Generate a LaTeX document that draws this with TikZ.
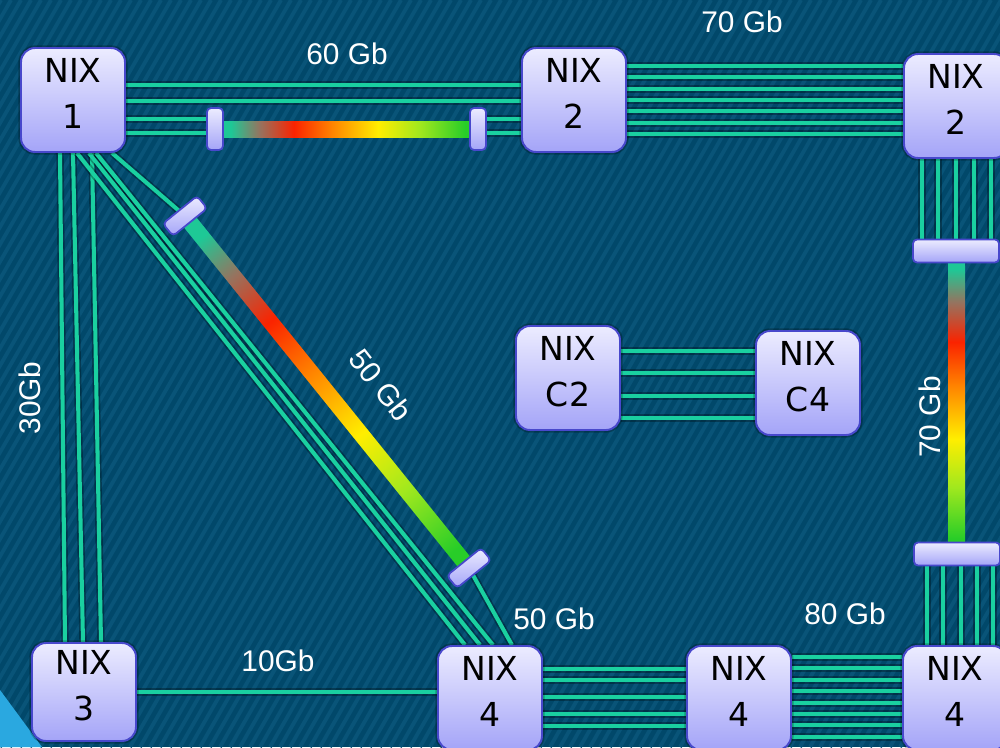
\documentclass[tikz,border=0pt]{standalone}
\usepackage{fontspec}
\usetikzlibrary{calc, backgrounds}
\newfontfamily\nixfont{DejaVu Sans}
\newfontfamily\gbfont{Liberation Sans}
\definecolor{bgblue}{RGB}{1,72,106}
\definecolor{bgstripe}{RGB}{9,84,120}
\definecolor{skyblue}{RGB}{42,168,224}
\definecolor{linkteal}{RGB}{26,208,160}
\definecolor{boxtop}{RGB}{236,236,255}
\definecolor{boxbottom}{RGB}{164,164,248}
\definecolor{boxedge}{RGB}{72,72,204}
\definecolor{barteal}{RGB}{30,200,150}
\definecolor{barmud}{RGB}{150,115,95}
\definecolor{barred}{RGB}{250,35,0}
\definecolor{barorange}{RGB}{255,135,0}
\definecolor{baryellow}{RGB}{255,238,0}
\definecolor{barlime}{RGB}{160,232,30}
\definecolor{bargreen}{RGB}{40,205,40}
\pgfdeclarehorizontalshading{nixbar}{100bp}{color(0bp)=(barteal); color(28bp)=(barteal);
    color(33.5bp)=(barmud); color(40bp)=(barred); color(47.5bp)=(barorange);
    color(56bp)=(baryellow); color(64bp)=(barlime); color(72.5bp)=(bargreen); color(100bp)=(bargreen)}

\begin{document}
\begin{tikzpicture}[x=0.02cm, y=-0.02cm,
    nixbox/.style={rectangle, rounded corners=0.28cm, draw=boxedge, line width=1.1pt,
        top color=boxtop, bottom color=boxbottom, minimum width=2.08cm, minimum height=2.08cm,
        inner sep=0pt, align=center, text depth=0.26cm,
        preaction={draw=black, draw opacity=0.25, line width=3pt},
        font=\nixfont\fontsize{18.8}{26}\selectfont},
    capbox/.style={rectangle, rounded corners=0.08cm, draw=boxedge, line width=1pt,
        top color=boxtop, bottom color=boxbottom, inner sep=0pt},
    link/.style={linkteal, line width=2.3pt, preaction={draw=black, draw opacity=0.3, line width=4.2pt}},
    gblabel/.style={text=white, inner sep=0pt, font=\gbfont\fontsize{17}{20}\selectfont}
]
    \useasboundingbox (0,0) rectangle (1000,747);

    \node[nixbox] (nix1)  at (73,100)  {NIX\\1};
    \node[nixbox] (nix2)  at (574,100) {NIX\\2};
    \node[nixbox] (nix2r) at (956,106) {NIX\\2};
    \node[nixbox] (nixC2) at (568,378) {NIX\\C2};
    \node[nixbox] (nixC4) at (808,383) {NIX\\C4};
    \node[nixbox, minimum height=1.96cm] (nix3) at (84,692) {NIX\\3};
    \node[nixbox] (nix4l) at (490,698) {NIX\\4};
    \node[nixbox] (nix4m) at (739,698) {NIX\\4};
    \node[nixbox] (nix4r) at (955,698) {NIX\\4};

    % bar ends
    \node[capbox, minimum width=0.32cm, minimum height=0.84cm] (capa) at (215,129) {};
    \node[capbox, minimum width=0.32cm, minimum height=0.84cm] (capb) at (478,129) {};
    \node[capbox, minimum width=0.88cm, minimum height=0.32cm, rotate=38.9] (capc) at (185,216) {};
    \node[capbox, minimum width=0.88cm, minimum height=0.32cm, rotate=38.9] (capd) at (469,568) {};
    \node[capbox, minimum width=1.72cm, minimum height=0.46cm] (cape) at (956,251) {};
    \node[capbox, minimum width=1.72cm, minimum height=0.46cm] (capf) at (957,554) {};

    \begin{scope}[on background layer]
        \fill[bgblue] (0,0) rectangle (1000,747);
        \begin{scope}
            \clip (0,0) rectangle (1000,747);
            \foreach \i in {-45,...,100}
                \draw[bgstripe, line width=2.2pt] (\i*10,747) -- ++(431,-747);
        \end{scope}
        \fill[skyblue] (0,690) -- (42,747) -- (0,747) -- cycle;

        % links
        \foreach \y in {85,101}
            \draw[link] (nix1.east |- 0,\y) -- (nix2.west |- 0,\y);
        \foreach \y in {119,133} {
            \draw[link] (nix1.east |- 0,\y) -- (capa.center |- 0,\y);
            \draw[link] (capb.center |- 0,\y) -- (nix2.west |- 0,\y);
        }
        \foreach \y in {66,77,89,100,111,123,134}
            \draw[link] (nix2.east |- 0,\y) -- (nix2r.west |- 0,\y);
        \foreach \x in {922,938,956,974,991}
            \draw[link] (nix2r.south -| \x,0) -- (cape.center -| \x,0);
        \foreach \x in {927,943,961,977,993}
            \draw[link] (capf.center -| \x,0) -- (nix4r.north -| \x,0);
        \foreach \y in {657,668,680,691,703,714,725,737}
            \draw[link] (nix4m.east |- 0,\y) -- (nix4r.west |- 0,\y);
        \foreach \y in {669,680,697,714,726}
            \draw[link] (nix4l.east |- 0,\y) -- (nix4m.west |- 0,\y);
        \foreach \y in {351,373,396,418}
            \draw[link] (nixC2.east |- 0,\y) -- (nixC4.west |- 0,\y);
        \draw[link] (nix3.east |- 0,692) -- (nix4l.west |- 0,692);
        \foreach \a/\b in {60/65,73/83,92/101}
            \draw[link] (nix1.south -| \a,0) -- (nix3.north -| \b,0);
        \foreach \a/\b in {77/465,89/480,96/493}
            \draw[link] (nix1.south -| \a,0) -- (nix4l.north -| \b,0);
        \draw[link] (nix1.south -| 112,0) -- (capc.center);
        \draw[link] (capd.center) -- (nix4l.north -| 512,0);

        % gradient bars
        \shade[shading=nixbar] ($(capa.center)+(0,-8)$) rectangle ($(capb.center)+(0,8)$);
        \shade[shading=nixbar, shading angle=270] ($(cape.center)+(-8,0)$) rectangle ($(capf.center)+(8,0)$);
        \begin{scope}[transform canvas={shift={(capc.center)}, rotate=-51.1}]
            \shade[shading=nixbar] (0,-8) rectangle (452,8);
        \end{scope}
    \end{scope}

    % Bandwidth labels
    \node[gblabel] (gb60)  at (347,54)  {60 Gb};
    \node[gblabel] (gb70a) at (742,22)  {70 Gb};
    \node[gblabel, rotate=-52] (gb50a) at (381,385) {50 Gb};
    \node[gblabel, rotate=90]  (gb30)  at (30,398)  {30Gb};
    \node[gblabel] (gb10)  at (278,661) {10Gb};
    \node[gblabel] (gb50b) at (554,619) {50 Gb};
    \node[gblabel] (gb80)  at (845,614) {80 Gb};
    \node[gblabel, rotate=90]  (gb70b) at (930,417) {70 Gb};
\end{tikzpicture}
\end{document}
